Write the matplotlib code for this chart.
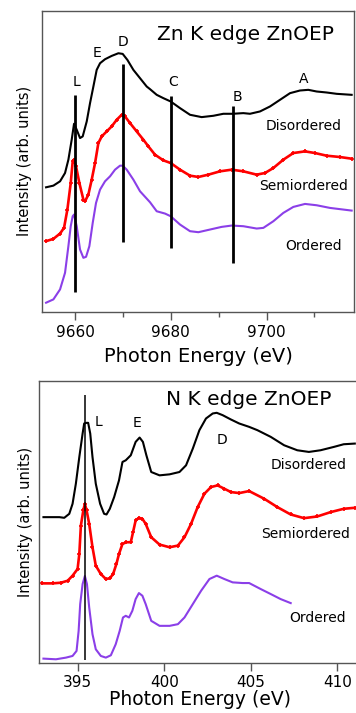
import matplotlib
matplotlib.use("Agg")
import matplotlib.pyplot as plt

plt.rcParams['font.family'] = ['DejaVu Sans']

# ---------------- Zn K edge (top) ----------------
zn_dis_e = [9653.95, 9655.48, 9656.87, 9657.91, 9658.61, 9659.30, 9659.79, 9660.35, 9661.04, 9661.60,
            9662.44, 9663.13, 9663.83, 9664.52, 9665.22, 9666.26, 9667.65, 9669.05, 9669.95, 9670.93,
            9672.18, 9673.57, 9674.96, 9675.66, 9677.05, 9678.44, 9679.97, 9681.92, 9684.01, 9686.44,
            9688.88, 9690.97, 9692.92, 9695.14, 9696.53, 9698.62, 9700.71, 9702.80, 9704.89, 9706.97,
            9708.71, 9710.45, 9712.54, 9714.63, 9717.76]
zn_dis_i = [43.7, 44.2, 45.5, 48.0, 52.0, 58.0, 62.8, 61.0, 58.5, 59.0,
            63.5, 69.0, 74.0, 79.0, 81.0, 82.2, 83.2, 84.0, 83.8, 82.0,
            79.0, 76.5, 74.0, 73.2, 71.5, 70.5, 69.5, 67.5, 65.5, 64.8,
            65.2, 65.8, 65.8, 66.0, 65.8, 66.5, 68.0, 70.0, 72.0, 72.8,
            73.0, 72.5, 72.2, 71.8, 71.5]

zn_semi_e = [9653.95, 9655.48, 9656.87, 9657.70, 9658.40, 9659.10, 9659.51, 9659.79, 9660.21, 9660.90,
             9661.74, 9662.09, 9662.78, 9663.48, 9664.18, 9664.87, 9665.57, 9666.61, 9667.65, 9668.70,
             9669.74, 9670.44, 9671.48, 9672.87, 9674.27, 9675.31, 9676.70, 9678.44, 9679.97, 9681.92,
             9684.01, 9685.75, 9687.84, 9690.27, 9692.71, 9695.14, 9697.93, 9699.67, 9701.41, 9703.49,
             9705.58, 9708.02, 9710.10, 9712.54, 9715.32, 9717.76]
zn_semi_i = [27.5, 28.2, 29.8, 31.5, 37.0, 45.0, 51.5, 52.0, 50.0, 45.0,
             40.0, 39.5, 41.5, 46.0, 51.0, 57.0, 59.0, 60.5, 62.0, 64.0,
             65.5, 65.0, 63.0, 60.5, 58.0, 56.0, 53.5, 51.8, 51.0, 49.0,
             47.2, 46.8, 47.5, 48.5, 49.0, 48.5, 47.5, 48.0, 49.5, 52.0,
             54.0, 54.5, 54.0, 53.2, 52.8, 52.3]

zn_ord_e = [9653.95, 9655.48, 9656.87, 9657.91, 9658.61, 9659.10, 9659.51, 9659.79, 9660.35, 9661.04,
            9661.74, 9662.30, 9662.99, 9663.69, 9664.38, 9665.22, 9666.26, 9667.31, 9668.35, 9669.39,
            9669.95, 9670.79, 9672.18, 9673.57, 9675.66, 9677.05, 9678.79, 9679.97, 9681.92, 9684.01,
            9685.75, 9688.18, 9690.62, 9692.71, 9695.14, 9697.93, 9699.32, 9701.41, 9703.49, 9705.58,
            9708.02, 9710.45, 9713.24, 9717.76]
zn_ord_i = [9.0, 10.0, 13.0, 18.0, 26.0, 32.0, 35.0, 35.5, 32.0, 25.0,
            22.5, 22.8, 26.0, 33.0, 39.0, 43.0, 45.5, 47.0, 49.0, 50.2,
            50.2, 49.0, 46.0, 42.5, 39.2, 36.5, 35.8, 35.0, 32.5, 30.5,
            30.2, 31.0, 31.8, 32.2, 32.0, 31.3, 31.5, 33.5, 36.0, 37.8,
            38.7, 38.3, 37.5, 36.7]

zn_lines_e = [9660.0, 9669.95, 9680.0, 9693.0]
zn_lines_lo = [12.2, 27.2, 25.5, 21.0]
zn_lines_hi = [71.5, 80.7, 71.0, 68.0]
zn_peak_labels = ['L', 'E', 'D', 'C', 'B', 'A']
zn_peak_e = [9660.2, 9664.5, 9669.95, 9680.5, 9694.0, 9707.8]
zn_peak_i = [75.5, 84.2, 87.5, 75.5, 70.8, 76.2]

# ---------------- N K edge (bottom) ----------------
n_dis_e = [393.03, 393.95, 394.23, 394.52, 394.71, 394.90, 395.10, 395.29, 395.38, 395.52,
           395.61, 395.73, 395.86, 396.05, 396.30, 396.53, 396.67, 396.86, 397.11, 397.39,
           397.59, 397.78, 398.07, 398.35, 398.58, 398.77, 398.97, 399.25, 399.73, 400.31,
           400.88, 401.26, 401.65, 402.03, 402.41, 402.80, 403.03, 403.37, 403.85, 404.33,
           404.90, 405.38, 406.15, 406.92, 407.68, 408.35, 409.02, 409.79, 410.36, 411.00]
n_dis_i = [53.0, 53.0, 52.8, 54.0, 57.0, 63.0, 71.0, 78.0, 81.0, 81.2,
           81.2, 78.0, 71.0, 63.0, 57.0, 54.0, 53.8, 55.5, 59.0, 64.0,
           69.5, 70.0, 71.5, 75.5, 76.8, 75.5, 71.5, 66.5, 65.5, 65.8,
           66.5, 68.5, 73.5, 79.0, 82.5, 84.0, 84.2, 83.5, 82.2, 81.0,
           80.0, 79.0, 77.0, 74.5, 73.0, 72.5, 73.0, 74.0, 74.8, 75.0]

n_semi_e = [392.95, 393.56, 394.04, 394.43, 394.71, 395.00, 395.10, 395.19, 395.33, 395.42,
            395.52, 395.67, 395.86, 396.05, 396.34, 396.63, 396.86, 397.05, 397.24, 397.39,
            397.59, 397.82, 398.07, 398.20, 398.35, 398.54, 398.74, 398.93, 399.25, 399.73,
            400.31, 400.79, 401.17, 401.55, 401.93, 402.32, 402.70, 403.08, 403.47, 403.85,
            404.33, 404.90, 405.77, 406.53, 407.30, 408.07, 408.83, 409.60, 410.36, 411.00]
n_semi_i = [33.2, 33.2, 33.4, 34.0, 35.5, 37.5, 42.0, 50.5, 55.0, 57.0,
            55.0, 51.0, 44.0, 38.5, 36.0, 34.5, 34.7, 36.0, 39.0, 42.0,
            45.0, 45.5, 45.5, 48.5, 52.0, 52.8, 52.5, 51.0, 47.0, 44.8,
            44.0, 44.5, 47.0, 51.0, 56.0, 60.0, 62.0, 62.5, 61.5, 60.5,
            60.2, 60.8, 58.5, 56.0, 53.8, 52.7, 53.2, 54.5, 55.5, 55.8]

n_ord_e = [393.03, 393.75, 394.33, 394.71, 394.94, 395.06, 395.15, 395.29, 395.42, 395.54,
           395.67, 395.86, 396.05, 396.34, 396.63, 396.92, 397.20, 397.43, 397.62, 397.78,
           397.97, 398.16, 398.35, 398.54, 398.74, 398.93, 399.25, 399.73, 400.31, 400.79,
           401.17, 401.65, 402.13, 402.61, 403.03, 403.47, 403.95, 404.52, 404.90, 405.57,
           406.15, 406.72, 407.30]
n_ord_i = [10.7, 10.5, 11.0, 11.5, 13.0, 19.0, 27.0, 33.0, 35.4, 33.0,
           26.0, 18.0, 13.5, 11.5, 11.0, 11.7, 15.0, 19.0, 23.0, 23.5,
           23.0, 25.0, 28.5, 30.3, 29.5, 27.0, 22.0, 20.5, 20.5, 21.0,
           23.0, 27.0, 31.0, 34.5, 35.5, 34.5, 33.5, 33.3, 33.3, 31.5,
           30.0, 28.5, 27.3]

n_line_e = 395.44
n_line_lo, n_line_hi = 10.3, 89.5
n_peak_labels = ['L', 'E', 'D']
n_peak_e = [396.21, 398.41, 403.33]
n_peak_i = [81.5, 81.1, 76.2]

series_labels = ['Disordered', 'Semiordered', 'Ordered']
zn_lab_e = [9707.8, 9707.67, 9709.76]
zn_lab_i = [62.2, 44.2, 26.2]
n_lab_e = [408.35, 408.14, 408.87]
n_lab_i = [68.5, 48.0, 22.8]

BLACK = '#000000'
RED = '#ff0000'
PURPLE = '#8b3fe8'
SPINE = '#555555'

W, H = 356, 713
fig = plt.figure(figsize=(W / 100, H / 100), dpi=100)

def px_axes(l, t, r, b):
    return fig.add_axes([l / W, 1 - b / H, (r - l) / W, (b - t) / H])

ax1 = px_axes(42, 11, 354, 311.7)
ax2 = px_axes(39.3, 380.7, 360, 663.3)

for ax in (ax1, ax2):
    for s in ax.spines.values():
        s.set_color(SPINE)
        s.set_linewidth(1.0)
    ax.set_yticks([])
    ax.tick_params(axis='x', which='major', direction='out', length=6, width=1,
                   color=SPINE, labelsize=11, pad=3.5)
    ax.tick_params(axis='x', which='minor', direction='out', length=3.5, width=1, color=SPINE)
ax2.spines['right'].set_visible(False)
ax2.tick_params(axis='x', which='major', pad=2.5)

# top panel
ax1.plot(zn_dis_e, zn_dis_i, color=BLACK, lw=1.5)
ax1.plot(zn_semi_e, zn_semi_i, color=RED, lw=1.9, marker='+', ms=3.5, mew=1.2)
ax1.plot(zn_ord_e, zn_ord_i, color=PURPLE, lw=1.5)
ax1.vlines(zn_lines_e, zn_lines_lo, zn_lines_hi, colors=BLACK, lw=2)
for lab, e, i in zip(zn_peak_labels, zn_peak_e, zn_peak_i):
    ax1.text(e, i, lab, ha='center', va='center', fontsize=10)
for lab, e, i in zip(series_labels, zn_lab_e, zn_lab_i):
    ax1.text(e, i, lab, ha='center', va='center', fontsize=10)
ax1.text(9695.6, 89.5, 'Zn K edge ZnOEP', ha='center', va='center', fontsize=14.5)
ax1.set_xlim(9653.1, 9718.25)
ax1.set_ylim(6.3, 96.7)
ax1.set_xticks([9660, 9680, 9700])
ax1.set_xticks([9670, 9690, 9710], minor=True)
ax1.set_xlabel('Photon Energy (eV)', fontsize=14, labelpad=5)
ax1.set_ylabel('Intensity (arb. units)', fontsize=10.5)
ax1.yaxis.set_label_coords(-9.5 / 312, 0.5)

# bottom panel
ax2.plot(n_dis_e, n_dis_i, color=BLACK, lw=1.5)
ax2.plot(n_semi_e, n_semi_i, color=RED, lw=1.9, marker='+', ms=3.5, mew=1.2)
ax2.plot(n_ord_e, n_ord_i, color=PURPLE, lw=1.5)
ax2.vlines([n_line_e], [n_line_lo], [n_line_hi], colors=BLACK, lw=1.1)
for lab, e, i in zip(n_peak_labels, n_peak_e, n_peak_i):
    ax2.text(e, i, lab, ha='center', va='center', fontsize=10)
for lab, e, i in zip(series_labels, n_lab_e, n_lab_i):
    ax2.text(e, i, lab, ha='center', va='center', fontsize=10)
ax2.text(404.86, 88.2, 'N K edge ZnOEP', ha='center', va='center', fontsize=14.5)
ax2.set_xlim(392.79, 411.3)
ax2.set_ylim(9.3, 93.8)
ax2.set_xticks([395, 400, 405, 410])
ax2.set_xlabel('Photon Energy (eV)', fontsize=13.5, labelpad=0)
ax2.set_ylabel('Intensity (arb. units)', fontsize=10.5)
ax2.yaxis.set_label_coords(-6.5 / 320.7, 0.5)

fig.savefig('out.png', dpi=100)
